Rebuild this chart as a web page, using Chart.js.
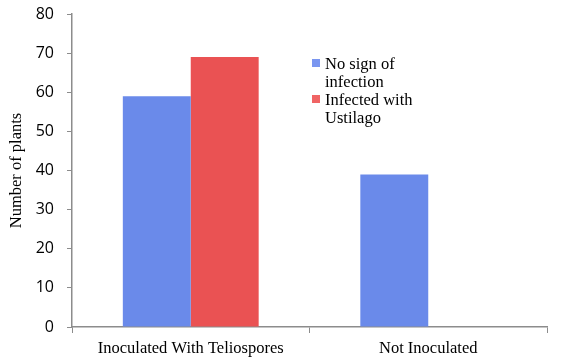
<!DOCTYPE html>
<html lang="en">
<head>
  <meta charset="UTF-8">
  <title>Number of plants</title>
  <script src="https://cdn.jsdelivr.net/npm/chart.js"></script>
  <style>
    body { margin: 0; background: #fff; }
    .wrap { position: relative; width: 580px; height: 362px; }
    .legend { position: absolute; left: 312px; top: 55px; font: 16.5px "Liberation Serif", "Times New Roman", serif; color: #000; line-height: 18px; }
    .legend .item { position: relative; padding-left: 13px; }
    .legend .box { position: absolute; left: 0; top: 4px; width: 8px; height: 8px; }
  </style>
</head>
<body>
  <div class="wrap">
    <canvas id="myChart" width="580" height="362"></canvas>
    <div class="legend">
      <div class="item"><span class="box" style="background:#7a96f0"></span>No sign of<br>infection</div>
      <div class="item"><span class="box" style="background:#f06464"></span>Infected with<br>Ustilago</div>
    </div>
  </div>
  <script>
    const categories = ["Inoculated With Teliospores", "Not Inoculated"]
    const noSign = [59, 39]
    const infected = [69, 0]
    const seriesNames = ["No sign of infection", "Infected with Ustilago"]
    const yTicks = [0, 10, 20, 30, 40, 50, 60, 70, 80]

    const ctx = document.getElementById("myChart")
    const mychart = new Chart(ctx, {
      type: "bar",
      data: {
        labels: categories,
        datasets: [{
          label: seriesNames[0],
          data: noSign,
          backgroundColor: "#6a8aea",
          borderWidth: 0
        }, {
          label: seriesNames[1],
          data: infected,
          backgroundColor: "#ea5253",
          borderWidth: 0
        }]
      },
      options: {
        responsive: false,
        animation: false,
        layout: { padding: { top: 14, right: 33, left: 0, bottom: 0 } },
        datasets: { bar: { categoryPercentage: 0.572, barPercentage: 1 } },
        scales: {
          x: {
            grid: { display: true, drawOnChartArea: false, drawTicks: true, tickLength: 6, color: "#8c8c8c", offset: true },
            border: { color: "#8c8c8c", width: 1.5 },
            ticks: { color: "#000", font: { family: "Liberation Serif", size: 16.5 }, padding: 6 },
            afterFit: (s) => { s.height = 35 }
          },
          y: {
            min: 0,
            max: 80,
            afterBuildTicks: (s) => { s.ticks = yTicks.map(v => ({ value: v })) },
            grid: { display: true, drawOnChartArea: false, drawTicks: true, tickLength: 5, color: "#8c8c8c" },
            border: { color: "#8c8c8c", width: 1.5 },
            ticks: { color: "#000", font: { family: "Open Sans", size: 16 }, padding: 13 },
            title: { display: true, text: "Number of plants", color: "#000", font: { family: "Liberation Serif", size: 16.5 }, padding: { top: 7, bottom: 0 } },
            afterFit: (s) => {
              s.width = 72
              // keep the big label gap from pushing the plot down
              s.paddingTop = 0
              s.paddingBottom = 0
            }
          }
        },
        plugins: {
          legend: { display: false },
          tooltip: { enabled: false }
        }
      }
    })
  </script>
</body>
</html>
